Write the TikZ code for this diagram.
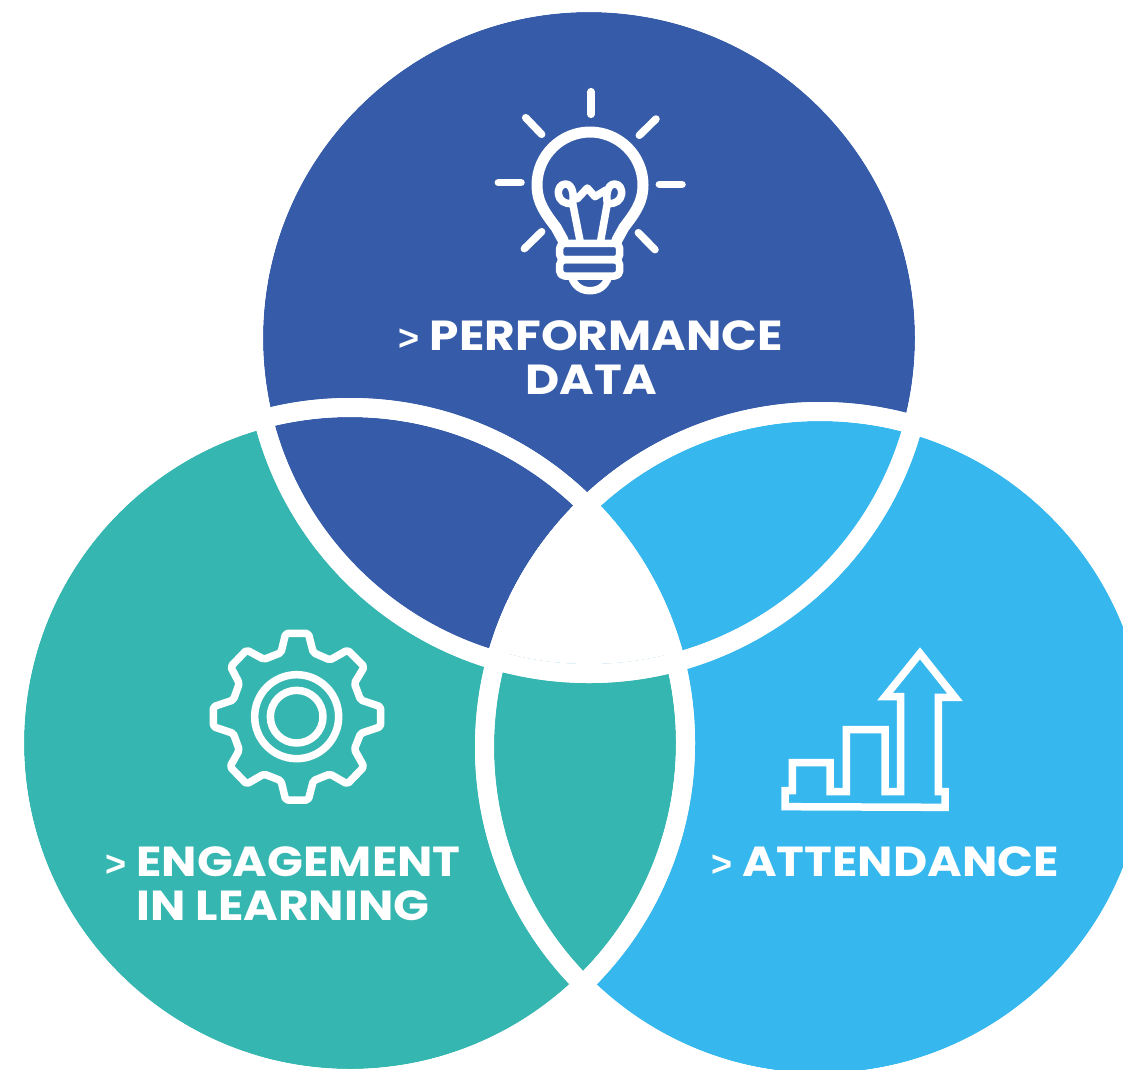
\documentclass[tikz,border=0pt]{standalone}
\usepackage{fontspec}
\setmainfont{Poppins}[BoldFont={Poppins Bold},BoldFeatures={FakeStretch=1.12}]
\newfontfamily\gtfont{Liberation Sans Bold}
\definecolor{darkblue}{HTML}{365CA9}
\definecolor{tealc}{HTML}{36B6B0}
\definecolor{lightb}{HTML}{36B8EE}
\tikzset{
  label text/.style={text=white,font=\fontsize{42}{44}\selectfont\bfseries,align=center,inner sep=0pt},
  icon thin/.style={draw=white,line width=7.5pt,line cap=round,line join=round},
  icon glass/.style={draw=white,line width=11pt,line cap=round,line join=round},
  icon plain/.style={draw=white,line width=7.5pt,line join=miter}
}
\newcommand{\TO}{(589,338) circle (345)}
\newcommand{\TI}{(589,338) circle (326)}
\newcommand{\LO}{(350,743) circle (345)}
\newcommand{\LI}{(350,743) circle (326)}
\newcommand{\RO}{(820,747) circle (345)}
\newcommand{\RI}{(820,747) circle (326)}
\newcommand{\gt}{{\gtfont\fontsize{36}{44}\selectfont >}}
\begin{document}
\begin{tikzpicture}[x=1pt,y=-1pt]
\useasboundingbox (0,0) rectangle (1123,1069);
\clip (0,0) rectangle (1123,1069);
% lower two circles
\fill[tealc] \LI;
\fill[white] \RO;
\fill[lightb] \RI;
\begin{scope}
  \clip \RI;
  \fill[white] \LO;
  \fill[tealc] \LI;
\end{scope}
% top circle and its overlaps
\fill[white] \TO;
\fill[darkblue] \TI;
\begin{scope}
  \clip \TI;
  \fill[white] \LO;
  \fill[darkblue] \LI;
  \fill[white] \RO;
  \fill[lightb] \RI;
  \begin{scope}
    \clip \LO;
    \fill[white] \RO;
  \end{scope}
\end{scope}
% white rings laid over every seam
\fill[white,even odd rule] \TO \TI;
\fill[white,even odd rule] \LO \LI;
\fill[white,even odd rule] \RO \RI;
% bulb
\begin{scope}[shift={(480,80)},scale=1/3]
  \draw[icon thin] (333,35) -- (333,103);
  \draw[icon thin] (137,113) -- (185,163);
  \draw[icon thin] (528,117) -- (478,166);
  \draw[icon thin] (55,308) -- (123,308);
  \draw[icon thin] (538,313) -- (606,313);
  \draw[icon thin] (133,506) -- (185,455);
  \draw[icon thin] (525,509) -- (475,458);
  \draw[icon glass] (250,482) -- (228,442) .. controls (200,405) and (171,370) .. (171,315)
     .. controls (171,225) and (245,156) .. (330,156)
     .. controls (415,156) and (489,225) .. (489,315)
     .. controls (489,370) and (460,405) .. (432,442) -- (410,482);
  \draw[icon thin] (300,482) -- (278,370)
     .. controls (225,378) and (225,312) .. (256,312)
     .. controls (280,312) and (282,350) .. (278,370);
  \draw[icon thin] (362,482) -- (382,370)
     .. controls (435,378) and (435,312) .. (404,312)
     .. controls (380,312) and (378,350) .. (382,370);
  \draw[icon thin] (283,350) -- (292,356) -- (322,324) -- (345,350) -- (378,330);
  \draw[icon thin,rounded corners=5pt] (239,490) rectangle (419,539);
  \draw[icon thin,rounded corners=5pt] (239,539) rectangle (419,588);
  \draw[icon thin] (275,592) .. controls (285,620) and (305,632) .. (330,632)
     .. controls (355,632) and (375,620) .. (385,592);
\end{scope}
% gear
\begin{scope}[shift={(195,615)},scale=1/3]
  \draw[icon thin,rounded corners=2pt] (272,55)--(340,55)--(355,113)--(405,135)--(458,105)--(508,155)--(478,205)--(497,255)--(557,275)--(557,335)--(497,355)--(478,403)--(507,455)--(457,507)--(405,477)--(355,497)--(340,555)--(272,555)--(258,497)--(207,477)--(155,507)--(105,455)--(133,405)--(115,355)--(55,335)--(55,275)--(115,255)--(133,205)--(107,155)--(155,105)--(207,133)--(258,113)--cycle;
  \draw[icon thin] (305,305) circle (126);
  \draw[icon thin] (305,305) circle (79);
\end{scope}
% chart
\begin{scope}[shift={(770,635)},scale=1/3]
  \draw[icon plain] (45,515)--(45,467)--(67,467)--(67,383)--(180,383)--(180,470)--(229,470)--(229,284)--(345,284)--(345,470)--(392,470)--(392,185)--(345,185)--(450,55)--(555,187)--(505,187)--(505,470)--(525,470)--(525,517)--cycle;
\end{scope}
% labels
\node[label text] (perf) at (591,358) {\gt{} PERFORMANCE\\DATA};
\node[label text] (eng) at (283,884) {\gt{} ENGAGEMENT\\IN LEARNING};
\node[label text] (att) at (885,862) {\gt{} ATTENDANCE};
\end{tikzpicture}
\end{document}
